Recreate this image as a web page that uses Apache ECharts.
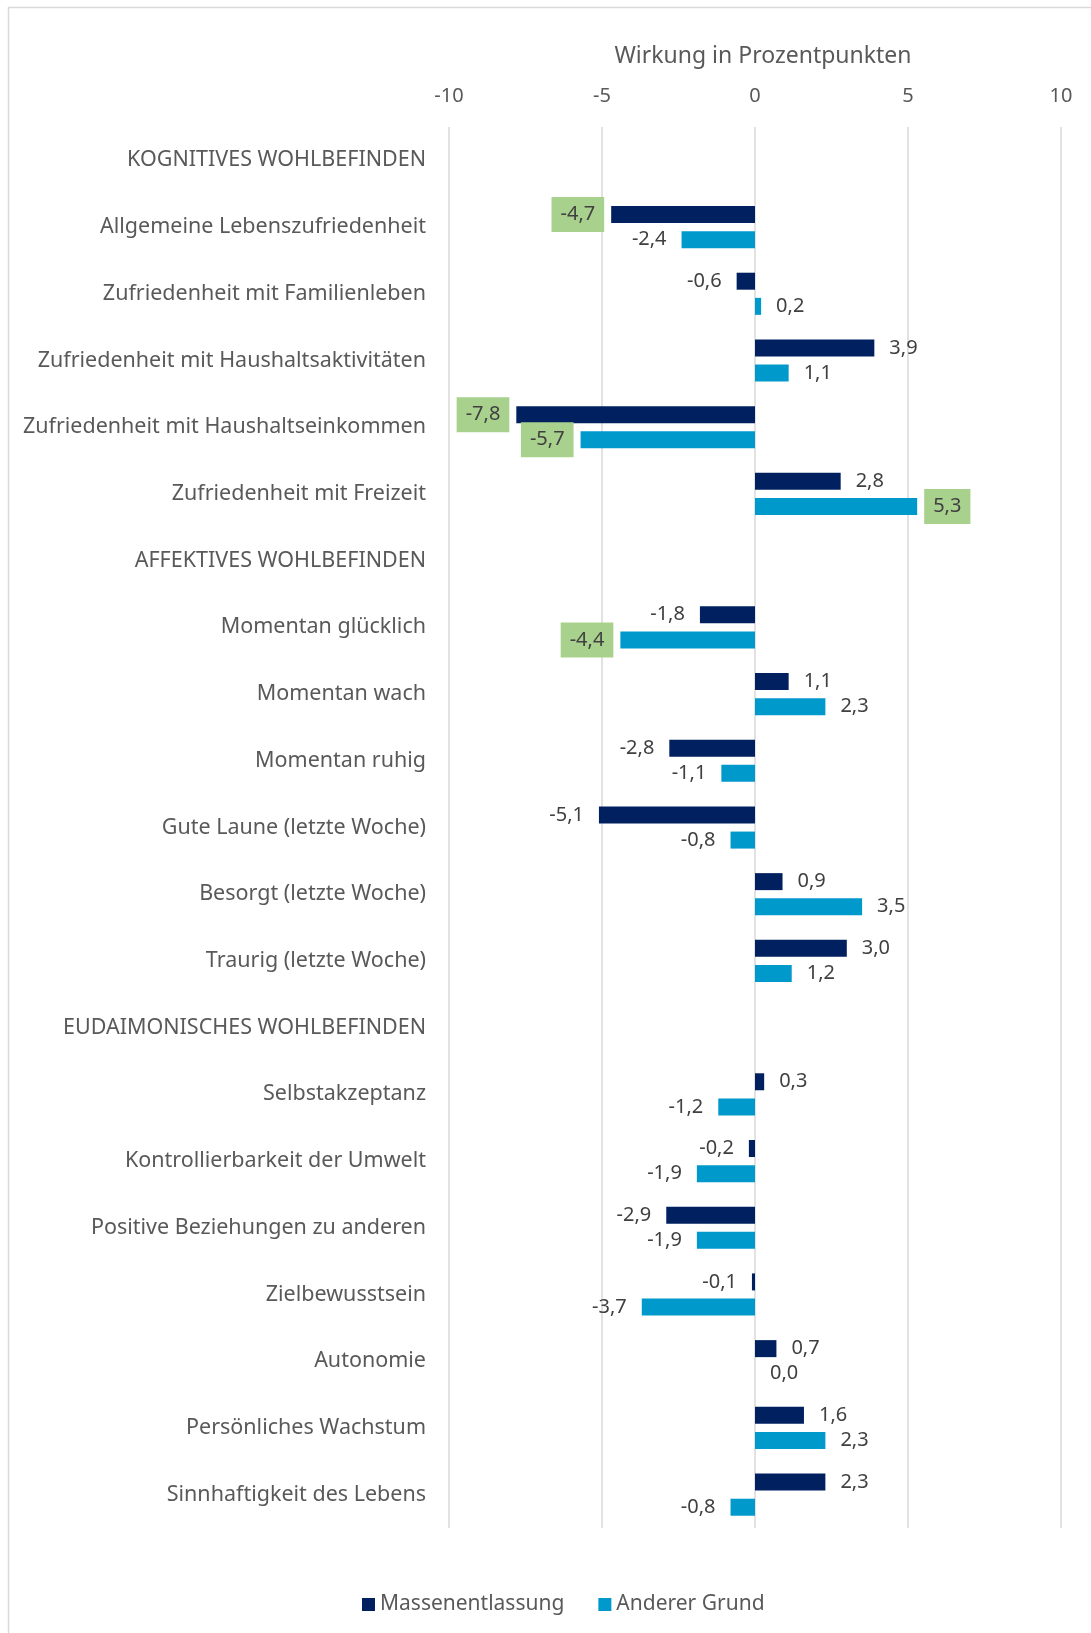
<!DOCTYPE html>
<html>
<head>
<meta charset="utf-8">
<script src="https://cdn.jsdelivr.net/npm/echarts@6/dist/echarts.min.js"></script>
<style>
    html, body { margin: 0; padding: 0; background: #fff; }
    #chart { width: 1091px; height: 1633px; }
</style>
</head>
<body>
<div id="chart"></div>
<script>
    // Kategorien (von oben nach unten)
    var categories = [
        'KOGNITIVES WOHLBEFINDEN',
        'Allgemeine Lebenszufriedenheit',
        'Zufriedenheit mit Familienleben',
        'Zufriedenheit mit Haushaltsaktivitäten',
        'Zufriedenheit mit Haushaltseinkommen',
        'Zufriedenheit mit Freizeit',
        'AFFEKTIVES WOHLBEFINDEN',
        'Momentan glücklich',
        'Momentan wach',
        'Momentan ruhig',
        'Gute Laune (letzte Woche)',
        'Besorgt (letzte Woche)',
        'Traurig (letzte Woche)',
        'EUDAIMONISCHES WOHLBEFINDEN',
        'Selbstakzeptanz',
        'Kontrollierbarkeit der Umwelt',
        'Positive Beziehungen zu anderen',
        'Zielbewusstsein',
        'Autonomie',
        'Persönliches Wachstum',
        'Sinnhaftigkeit des Lebens'
    ];
    var massenentlassung = [null, -4.7, -0.6, 3.9, -7.8, 2.8, null, -1.8, 1.1, -2.8, -5.1, 0.9, 3.0, null, 0.3, -0.2, -2.9, -0.1, 0.7, 1.6, 2.3];
    var andererGrund = [null, -2.4, 0.2, 1.1, -5.7, 5.3, null, -4.4, 2.3, -1.1, -0.8, 3.5, 1.2, null, -1.2, -1.9, -1.9, -3.7, 0.0, 2.3, -0.8];
    // grün hinterlegte Werte
    var markMassen = [0, 1, 0, 0, 1, 0, 0, 0, 0, 0, 0, 0, 0, 0, 0, 0, 0, 0, 0, 0, 0];
    var markAnderer = [0, 0, 0, 0, 1, 1, 0, 1, 0, 0, 0, 0, 0, 0, 0, 0, 0, 0, 0, 0, 0];
    var xTicks = [-10, -5, 0, 5, 10];

    var fontName = 'Noto Sans';
    var textGray = '#595959';

    function buildData(vals, marks) {
        return vals.map(function (v, i) {
            if (v === null) {
                return '-';
            }
            var item = {
                value: v,
                label: { position: v < 0 ? 'left' : 'right' }
            };
            if (marks[i]) {
                item.label.backgroundColor = '#a9d18e';
                item.label.padding = [9, 9, 6, 9];
                item.label.distance = 7;
            }
            return item;
        });
    }

    function fmt(p) {
        return p.value.toFixed(1).replace('.', ',');
    }

    var chart = echarts.init(document.getElementById('chart'));
    var labelStyle = {
        show: true,
        color: '#404040',
        fontFamily: fontName,
        fontSize: 20,
        distance: 15,
        padding: [5, 0, 0, 0],
        formatter: fmt
    };

    var option = {
        backgroundColor: '#fff',
        animation: false,
        graphic: [{
            type: 'rect',
            shape: { x: 8.5, y: 7.5, width: 1200, height: 1700 },
            style: { fill: 'none', stroke: '#d9d9d9', lineWidth: 1.5 },
            silent: true
        }],
        legend: {
            left: 357,
            top: 1589,
            icon: 'rect',
            itemWidth: 13,
            itemHeight: 13,
            itemGap: 34,
            textStyle: { color: textGray, fontFamily: fontName, fontSize: 21 },
            data: ['Massenentlassung', 'Anderer Grund']
        },
        grid: {
            left: 449,
            right: 30,
            top: 127,
            bottom: 105
        },
        xAxis: {
            type: 'value',
            position: 'top',
            min: xTicks[0],
            max: xTicks[xTicks.length - 1],
            interval: 5,
            name: 'Wirkung in Prozentpunkten',
            nameLocation: 'middle',
            nameGap: 59,
            nameTextStyle: { color: textGray, fontFamily: fontName, fontSize: 23, padding: [0, 0, 0, 16] },
            axisLine: { show: false },
            axisTick: { show: false },
            axisLabel: { color: textGray, fontFamily: fontName, fontSize: 20, margin: 21 },
            splitLine: { show: true, lineStyle: { color: '#d9d9d9', width: 1.5 } }
        },
        yAxis: {
            type: 'category',
            inverse: true,
            data: categories,
            axisLine: { show: false },
            axisTick: { show: false },
            axisLabel: { color: textGray, fontFamily: fontName, fontSize: 21.5, margin: 23, padding: [4, 0, 0, 0] }
        },
        series: [
            {
                name: 'Massenentlassung',
                type: 'bar',
                barWidth: 17,
                barGap: '48%',
                itemStyle: { color: '#002060' },
                label: labelStyle,
                data: buildData(massenentlassung, markMassen)
            },
            {
                name: 'Anderer Grund',
                type: 'bar',
                barWidth: 17,
                barGap: '48%',
                itemStyle: { color: '#0099cc' },
                label: labelStyle,
                data: buildData(andererGrund, markAnderer)
            }
        ]
    };
    chart.setOption(option);
</script>
</body>
</html>
